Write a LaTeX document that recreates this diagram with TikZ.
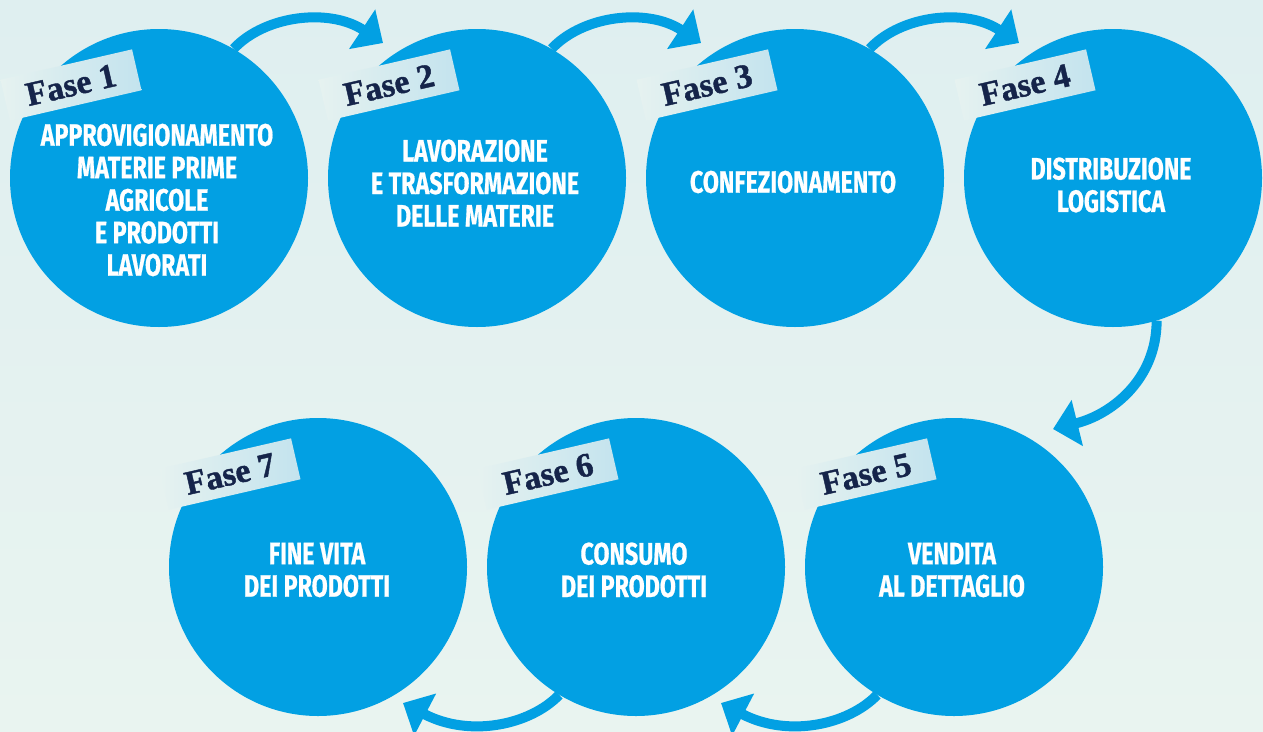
\documentclass[tikz,border=0pt]{standalone}
\usepackage{fontspec}
\setmainfont{Liberation Serif}
\newfontfamily\tagfont[FakeBold=1.2]{Liberation Serif}
\newfontfamily\circfont[FakeStretch=0.75,FakeBold=0.6]{Fira Sans}
\usetikzlibrary{arrows.meta}
\definecolor{bgtop}{HTML}{DFEFF0}
\definecolor{bgbot}{HTML}{E9F4F0}
\definecolor{circ}{HTML}{02A0E3}
\definecolor{tagl}{HTML}{E6F2F0}
\definecolor{tagr}{HTML}{C3E3EE}
\definecolor{navy}{HTML}{15244A}
\tikzset{
  phase/.style={circle, fill=circ, draw=none, minimum size=298pt, inner sep=0pt},
  phasetext/.style={text=white, align=center, inner sep=0pt,
    font=\circfont\bfseries\fontsize{31}{32.5}\selectfont},
  tagbox/.style={rotate=13, left color=tagl, right color=tagr, draw=none,
    minimum width=135pt, minimum height=42pt, inner sep=0pt, text=navy,
    font=\tagfont\bfseries\fontsize{34}{36}\selectfont},
  flow/.style={draw=circ, line width=10pt, -{Triangle[length=25pt,width=46pt]}}
}
\begin{document}
\begin{tikzpicture}[x=1pt,y=-1pt]
\shade[top color=bgtop, bottom color=bgbot] (0,0) rectangle (1263,731);
\useasboundingbox (0,0) rectangle (1263,731);
% circle nodes (anchors only, filled below)
\path (159,178) node[phase, fill=none] (c1) {}
      (477,178) node[phase, fill=none] (c2) {}
      (795,178) node[phase, fill=none] (c3) {}
      (1113,178) node[phase, fill=none] (c4) {}
      (954,567) node[phase, fill=none] (c5) {}
      (636,567) node[phase, fill=none] (c6) {}
      (318,567) node[phase, fill=none] (c7) {};
% arrow tips
\coordinate (h2) at (383,43);
\coordinate (h3) at (701,43);
\coordinate (h4) at (1019,43);
\coordinate (h5) at (1053,429);
\coordinate (h6) at (721,703);
\coordinate (h7) at (403,703);
% connectors
\draw[flow] (c1.60) .. controls +(32,-34) and +(-53,-35) .. (h2);
\draw[flow] (c2.60) .. controls +(32,-34) and +(-53,-35) .. (h3);
\draw[flow] (c3.60) .. controls +(32,-34) and +(-53,-35) .. (h4);
\draw[flow] (c4.-73) .. controls +(0,60) and +(57,-14) .. (h5);
\draw[flow] (c5.-121) .. controls +(-29,30) and +(67,35) .. (h6);
\draw[flow] (c6.-121) .. controls +(-29,30) and +(67,35) .. (h7);
% filled circles
\foreach \c in {c1,c2,c3,c4,c5,c6,c7}{
  \fill[circ] (\c.center) circle[radius=149pt];
}
% texts
\node[phasetext] (l1) at (157,200) {APPROVIGIONAMENTO\\MATERIE PRIME\\AGRICOLE\\E PRODOTTI\\LAVORATI};
\node[phasetext] (l2) at (475,183) {LAVORAZIONE\\E TRASFORMAZIONE\\DELLE MATERIE};
\node[phasetext] (l3) at (793,182) {CONFEZIONAMENTO};
\node[phasetext] (l4) at (1111,185) {DISTRIBUZIONE\\LOGISTICA};
\node[phasetext] (l5) at (952,570) {VENDITA\\AL DETTAGLIO};
\node[phasetext] (l6) at (634,570) {CONSUMO\\DEI PRODOTTI};
\node[phasetext] (l7) at (317,570) {FINE VITA\\DEI PRODOTTI};
% tags
\node[tagbox] (t1) at (71,85) {Fase 1};
\node[tagbox] (t2) at (389,85) {Fase 2};
\node[tagbox] (t3) at (707,85) {Fase 3};
\node[tagbox] (t4) at (1025,85) {Fase 4};
\node[tagbox] (t5) at (866,474) {Fase 5};
\node[tagbox] (t6) at (548,474) {Fase 6};
\node[tagbox] (t7) at (230,474) {Fase 7};
\end{tikzpicture}
\end{document}
